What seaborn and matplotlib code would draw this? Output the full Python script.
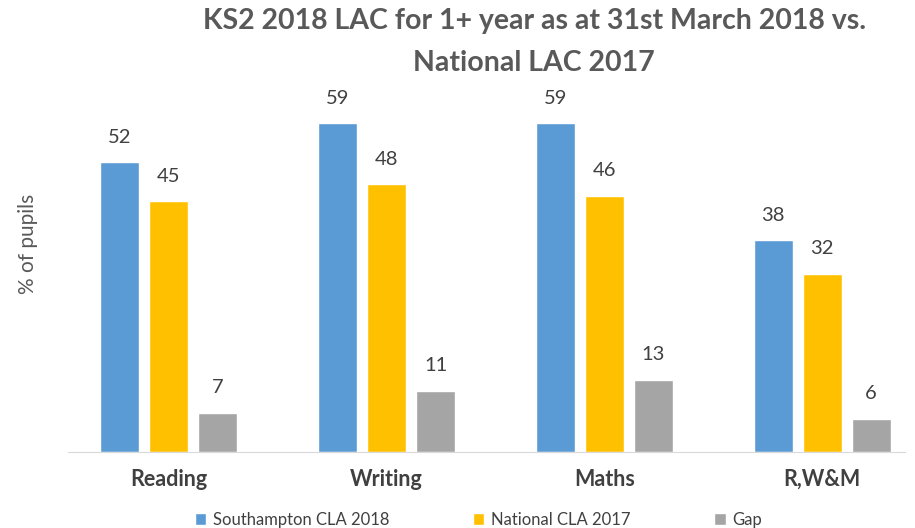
import pandas as pd
import seaborn as sns
import matplotlib.pyplot as plt

# ============================================
# DATA
# ============================================

subjects = ['Reading', 'Writing', 'Maths', 'R,W&M']
southampton = [52, 59, 59, 38]
national = [45, 48, 46, 32]
gap = [7, 11, 13, 6]

series_names = ['Southampton CLA 2018', 'National CLA 2017', 'Gap']
colors = ['#5B9BD5', '#FFC000', '#A5A5A5']

df = pd.DataFrame({
    'subject': subjects * 3,
    'series': [series_names[0]] * 4 + [series_names[1]] * 4 + [series_names[2]] * 4,
    'value': southampton + national + gap
})

# ============================================
# PLOT
# ============================================

sns.set_style('white')
plt.rcParams['font.family'] = ['Lato', 'DejaVu Sans']

fig = plt.figure(figsize=(9.15, 5.28), dpi=100)
ax = fig.add_axes([0.0743, 0.144, 0.915, 0.686])

sns.barplot(
    data=df,
    x='subject',
    y='value',
    hue='series',
    palette=colors,
    saturation=1,
    width=0.675,
    gap=0.21,
    ax=ax
)

for c in ax.containers:
    ax.bar_label(c, padding=12, fontsize=14.5, color='#404040')

ax.set_ylim(0, 65)
ax.set_xlim(-0.463, 3.381)
ax.set_yticks([])
ax.set_xlabel('')
ax.set_ylabel('% of pupils', fontsize=15, color='#595959')
ax.yaxis.set_label_coords(-0.036, 0.575)
ax.tick_params(axis='x', length=0, pad=12)
for lbl in ax.get_xticklabels():
    lbl.set_fontweight('bold')
    lbl.set_fontsize(15.5)
    lbl.set_color('#404040')

for s in ['top', 'right', 'left']:
    ax.spines[s].set_visible(False)
ax.spines['bottom'].set_color('#D9D9D9')

fig.suptitle(
    'KS2 2018 LAC for 1+ year as at 31st March 2018 vs.\nNational LAC 2017',
    fontsize=20.5, fontweight='bold', color='#595959',
    x=0.584, y=0.985, linespacing=1.75
)

ax.legend(
    loc='lower center', bbox_to_anchor=(0.49, -0.25),
    ncol=3, frameon=False, fontsize=12,
    handlelength=0.7, handleheight=0.7, columnspacing=5.0,
    handletextpad=0.4, labelcolor='#404040'
)

plt.savefig('out.png', dpi=100)
